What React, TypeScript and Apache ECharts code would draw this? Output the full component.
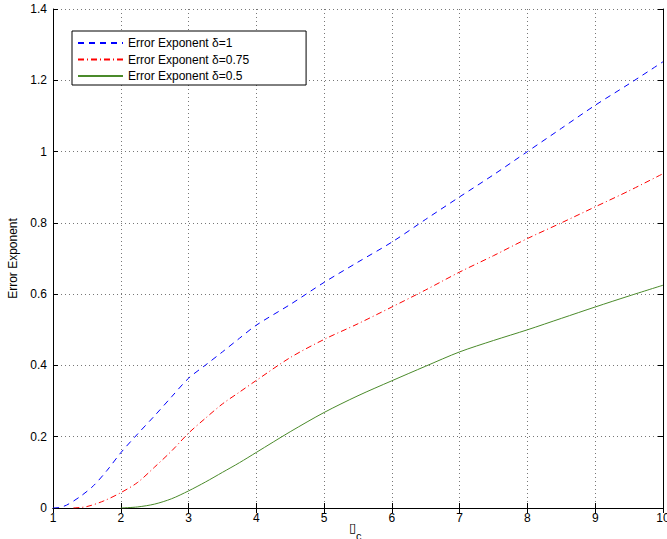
import React, { useEffect, useRef } from "react";
import * as echarts from "echarts";

const legendNames = ["Error Exponent δ=1", "Error Exponent δ=0.75", "Error Exponent δ=0.5"];
const xAxisTitle = "\u25AF";
const xAxisTitleSub = "c";
const yAxisTitle = "Error Exponent";

const xBlue = [1, 1.1, 1.2, 1.4, 1.6, 1.8, 2, 2.25, 2.5, 2.75, 3, 3.25, 3.5, 3.75, 4, 4.5, 5, 5.5, 6, 6.5, 7, 7.5, 8, 8.5, 9, 9.5, 10];
const yBlue = [0, 0.002, 0.008, 0.032, 0.063, 0.106, 0.155, 0.208, 0.259, 0.312, 0.364, 0.401, 0.438, 0.476, 0.513, 0.571, 0.633, 0.69, 0.746, 0.81, 0.873, 0.935, 1.0, 1.065, 1.13, 1.19, 1.252];

const xRed = [1.3, 1.5, 1.75, 2, 2.25, 2.5, 2.75, 3, 3.25, 3.5, 3.75, 4, 4.5, 5, 5.5, 6, 6.5, 7, 7.5, 8, 8.5, 9, 9.5, 10];
const yRed = [0, 0.004, 0.02, 0.043, 0.072, 0.115, 0.16, 0.21, 0.252, 0.292, 0.325, 0.358, 0.422, 0.473, 0.517, 0.564, 0.612, 0.662, 0.708, 0.756, 0.8, 0.845, 0.89, 0.938];

const xGreen = [2, 2.25, 2.5, 2.75, 3, 3.25, 3.5, 3.75, 4, 4.5, 5, 5.5, 6, 6.5, 7, 7.5, 8, 8.5, 9, 9.5, 10];
const yGreen = [0, 0.003, 0.011, 0.026, 0.048, 0.073, 0.1, 0.127, 0.156, 0.214, 0.268, 0.315, 0.357, 0.398, 0.438, 0.47, 0.5, 0.532, 0.564, 0.595, 0.625];

const zip = (xs: number[], ys: number[]) => xs.map((x, i) => [x, ys[i]]);

const FONT = "'Liberation Sans', Arial, Helvetica, sans-serif";

export default function App() {
  const ref = useRef<HTMLDivElement>(null);
  useEffect(() => {
    if (!ref.current) return;
    const chart = echarts.init(ref.current, undefined, { renderer: "svg" });
    const axisLine = { show: true, lineStyle: { color: "#000", width: 1 } };
    const tick = { show: true, inside: true, length: 5, lineStyle: { color: "#000" } };
    const hiddenIcon = { color: "rgba(0,0,0,0)", borderColor: "rgba(0,0,0,0)", borderWidth: 0, opacity: 0 };
    chart.setOption({
      animation: false,
      backgroundColor: "#fff",
      textStyle: { fontFamily: FONT },
      grid: { left: 53, top: 9, width: 610, height: 499, containLabel: false, outerBoundsMode: "none" },
      legend: {
        orient: "vertical",
        left: 72,
        top: 31,
        data: legendNames,
        itemWidth: 45,
        itemHeight: 14,
        itemGap: 4.5,
        padding: [6, 57, 3, 5],
        borderColor: "#000",
        borderWidth: 1,
        backgroundColor: "#fff",
        itemStyle: hiddenIcon,
        textStyle: { fontSize: 12, color: "#000", fontFamily: FONT },
      },
      graphic: [
        {
          type: "text",
          left: 349,
          top: 521,
          style: { text: xAxisTitle, fontSize: 13, fill: "#000", fontFamily: "DejaVu Sans" },
        },
        {
          type: "text",
          left: 356,
          top: 530,
          style: { text: xAxisTitleSub, fontSize: 11, fill: "#000", fontFamily: FONT },
        },
      ],
      xAxis: [
        {
          type: "value",
          min: 1,
          max: 10,
          interval: 1,
          position: "bottom",
          axisLine,
          axisTick: tick,
          axisLabel: { fontSize: 12, color: "#000", margin: 4, fontFamily: FONT },
          splitLine: { show: true, lineStyle: { color: "#777", type: [1, 3], width: 1 } },
        },
        {
          type: "value",
          min: 1,
          max: 10,
          interval: 1,
          position: "top",
          axisLine,
          axisTick: tick,
          axisLabel: { show: false },
          splitLine: { show: false },
        },
      ],
      yAxis: [
        {
          type: "value",
          min: 0,
          max: 1.4,
          interval: 0.2,
          position: "left",
          axisLine,
          axisTick: tick,
          axisLabel: { fontSize: 12, color: "#000", margin: 6, fontFamily: FONT },
          splitLine: { show: true, lineStyle: { color: "#777", type: [1, 3], width: 1 } },
          name: yAxisTitle,
          nameLocation: "middle",
          nameGap: 33,
          nameTextStyle: { fontSize: 12, color: "#000", fontFamily: FONT },
        },
        {
          type: "value",
          min: 0,
          max: 1.4,
          interval: 0.2,
          position: "right",
          axisLine,
          axisTick: tick,
          axisLabel: { show: false },
          splitLine: { show: false },
        },
      ],
      series: [
        {
          name: legendNames[0],
          type: "line",
          data: zip(xBlue, yBlue),
          showSymbol: false,
          symbol: "none",
          smooth: 0.3,
          lineStyle: { color: "#0000ff", width: 1, type: [6, 5] },
          itemStyle: { color: "#0000ff" },
        },
        {
          name: legendNames[1],
          type: "line",
          data: zip(xRed, yRed),
          showSymbol: false,
          symbol: "none",
          smooth: 0.3,
          lineStyle: { color: "#ff0000", width: 1, type: [6, 3, 1, 3] },
          itemStyle: { color: "#ff0000" },
        },
        {
          name: legendNames[2],
          type: "line",
          data: zip(xGreen, yGreen),
          showSymbol: false,
          symbol: "none",
          smooth: 0.3,
          lineStyle: { color: "#4a8a2a", width: 1, type: "solid" },
          itemStyle: { color: "#4a8a2a" },
        },
      ],
    });
    return () => chart.dispose();
  }, []);
  return <div ref={ref} style={{ width: 667, height: 539, position: "absolute", left: 0, top: 0 }} />;
}
